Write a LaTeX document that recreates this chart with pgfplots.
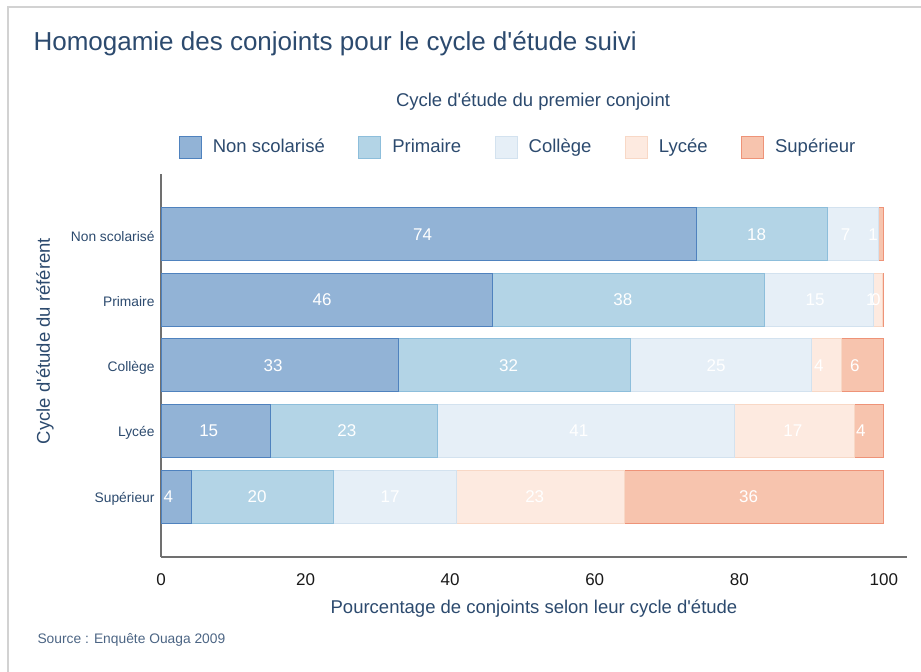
\documentclass[border=0pt]{standalone}
\usepackage{pgfplots}
\pgfplotsset{compat=1.18}
\usepackage{pgfplotstable}
\usepackage{fontspec}
\setmainfont{Liberation Sans}[Ligatures=TeXOff]
\definecolor{navy}{HTML}{2C4A6E}
\definecolor{axgray}{HTML}{707070}
\definecolor{cNS}{HTML}{92B3D6}
\definecolor{bNS}{HTML}{4F82BE}
\definecolor{cPR}{HTML}{B3D4E6}
\definecolor{bPR}{HTML}{8DBEDB}
\definecolor{cCO}{HTML}{E6EFF7}
\definecolor{bCO}{HTML}{D3E2EF}
\definecolor{cLY}{HTML}{FDEAE0}
\definecolor{bLY}{HTML}{F8D8C6}
\definecolor{cSU}{HTML}{F7C4AE}
\definecolor{bSU}{HTML}{EE9378}

\pgfplotstableread{
y ns pr co ly su
4 74.1 18.1 7.1 0.0 0.7
3 45.9 37.6 15.0 1.3 0.2
2 32.8 32.2 25.0 4.2 5.8
1 15.1 23.1 41.1 16.6 4.1
0 4.2 19.6 17.1 23.2 35.9
}\bars

\pgfplotstableread{
x y l
36.2 4 74
82.4 4 18
94.7 4 7
98.5 4 1
22.3 3 46
63.9 3 38
90.5 3 15
98.2 3 1
98.9 3 0
15.5 2 33
48.1 2 32
76.8 2 25
91.0 2 4
96.0 2 6
6.6 1 15
25.7 1 23
57.8 1 41
87.4 1 17
96.8 1 4
1.0 0 4
13.3 0 20
31.7 0 17
51.7 0 23
81.3 0 36
}\labs

\pgfplotsset{sq/.style={legend image code/.code={\draw[##1] (0pt,-11pt) rectangle (22pt,11pt);}}}

\begin{document}
\begin{tikzpicture}[x=1pt,y=1pt]
\path[use as bounding box] (0,0) rectangle (921,672);
\draw[gray!35, line width=1.2pt] (8,0) -- (8,665) -- (921,665);
\node[anchor=west, text=navy, font=\fontsize{26}{31}\selectfont] at (30,628) {Homogamie des conjoints pour le cycle d'étude suivi};
\node[anchor=center, text=navy, font=\fontsize{18.5}{22}\selectfont] at (533,570) {Cycle d'étude du premier conjoint};
\node[anchor=west, text=navy!85!white, font=\fontsize{13.8}{16}\selectfont] at (34,32) {Source : Enquête Ouaga 2009};

\begin{axis}[
  at={(161pt,115pt)}, anchor=south west, scale only axis,
  width=746pt, height=383pt,
  xbar stacked, bar width=53pt,
  xmin=0, xmax=103.2, ymin=-0.92, ymax=4.92,
  axis x line*=bottom, axis y line*=left,
  axis line style={draw=axgray, line width=1.5pt},
  xtick={0,20,...,100}, ytick={0,1,2,3,4},
  yticklabels={Supérieur,Lycée,Collège,Primaire,Non scolarisé},
  major tick length=0pt,
  /pgf/number format/assume math mode=true,
  xticklabel style={font=\fontsize{17}{20}\selectfont, text=black!90, yshift=-13pt},
  yticklabel style={font=\fontsize{13.8}{16}\selectfont, text=navy, xshift=-3pt, yshift=-2pt},
  xlabel={Pourcentage de conjoints selon leur cycle d'étude},
  ylabel={Cycle d'étude du référent},
  x label style={at={(axis description cs:0.5,-0.1335)}, anchor=center, font=\fontsize{18.5}{22}\selectfont, text=navy},
  y label style={at={(axis description cs:-0.1555,0.564)}, anchor=center, font=\fontsize{18.5}{22}\selectfont, text=navy},
  legend columns=5,
  legend style={at={(axis description cs:0.4786,1.069)}, anchor=center, draw=none, fill=none,
    font=\fontsize{18.5}{22}\selectfont, text=navy,
    nodes={text height=13.5pt, text depth=4.5pt},
    /tikz/every odd column/.append style={column sep=9pt},
    /tikz/every even column/.append style={column sep=31.5pt}},
  legend cell align=left,
]
\addplot[fill=cNS, draw=bNS, line width=1pt, sq] table[x=ns, y=y] {\bars};
\addplot[fill=cPR, draw=bPR, line width=1pt, sq] table[x=pr, y=y] {\bars};
\addplot[fill=cCO, draw=bCO, line width=1pt, sq] table[x=co, y=y] {\bars};
\addplot[fill=cLY, draw=bLY, line width=1pt, sq] table[x=ly, y=y] {\bars};
\addplot[fill=cSU, draw=bSU, line width=1pt, sq] table[x=su, y=y] {\bars};
\legend{Non scolarisé, Primaire, Collège, Lycée, Supérieur}
\end{axis}

\begin{axis}[
  at={(161pt,115pt)}, anchor=south west, scale only axis,
  width=746pt, height=383pt,
  xmin=0, xmax=103.2, ymin=-0.92, ymax=4.92,
  hide axis,
]
\addplot[only marks, mark=none, nodes near coords, point meta=explicit symbolic,
  every node near coord/.style={anchor=center, text=white, font=\fontsize{17}{20}\selectfont}]
  table[x=x, y=y, meta=l] {\labs};
\end{axis}
\end{tikzpicture}
\end{document}
